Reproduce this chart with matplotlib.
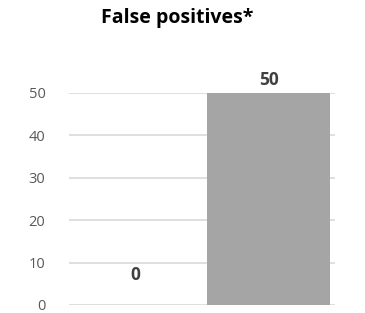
import matplotlib.pyplot as plt

# data
categories = ["A", "B"]
values = [0, 50]
yticks = [0, 10, 20, 30, 40, 50]
title = "False positives*"

plt.rcParams["font.family"] = ["Open Sans", "DejaVu Sans"]

fig = plt.figure(figsize=(3.65, 3.13), dpi=100)
ax = fig.add_axes([69 / 365, 1 - 305 / 313, 266 / 365, 212 / 313])

x = list(range(len(categories)))
ax.bar(x, values, width=0.92, color="#A5A5A5", zorder=3)

ax.set_xlim(-0.5, len(categories) - 0.5)
ax.set_ylim(0, 50)
ax.set_yticks(yticks)
ax.set_xticks([])
ax.tick_params(axis="y", length=0, pad=17, labelsize=10.5, labelcolor="#595959")
ax.grid(axis="y", color="#D9D9D9", linewidth=1.2, zorder=0)
for s in ax.spines.values():
    s.set_visible(False)

# data labels, the zero one sits higher like in excel
offsets = [15, 3]
for xi, v, off in zip(x, values, offsets):
    ax.annotate(str(v), (xi, v), xytext=(0, off), textcoords="offset points",
                ha="center", va="bottom", fontsize=12.5, fontweight="bold",
                color="#404040")

fig.text(177 / 365, 1 - 18 / 313, title, ha="center", va="center",
         fontsize=14, fontweight="bold", color="black")

fig.savefig("out.png", dpi=100)
